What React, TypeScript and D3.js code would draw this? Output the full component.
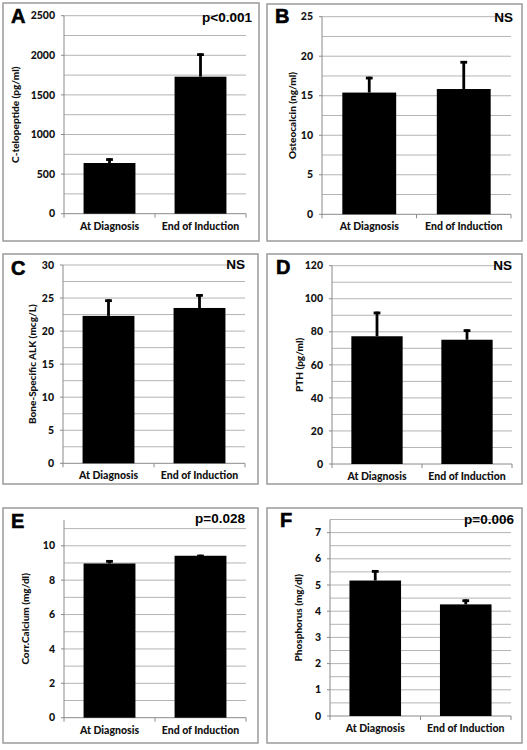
import React from "react";
import * as d3 from "d3";

const categories = ["At Diagnosis", "End of Induction"];

const ctxMean = [640, 1730];
const ctxErr = [60, 295];
const oscMean = [15.4, 15.85];
const oscErr = [2.0, 3.55];
const bsapMean = [22.3, 23.5];
const bsapErr = [2.5, 2.1];
const pthMean = [77.3, 75.2];
const pthErr = [14.9, 6.3];
const caMean = [8.97, 9.42];
const caErr = [0.2, 0.06];
const phosMean = [5.17, 4.26];
const phosErr = [0.4, 0.19];

const ticksA = [0, 500, 1000, 1500, 2000, 2500];
const ticksB = [0, 5, 10, 15, 20, 25];
const ticksC = [0, 5, 10, 15, 20, 25, 30];
const ticksD = [0, 20, 40, 60, 80, 100, 120];
const ticksE = [0, 2, 4, 6, 8, 10];
const ticksF = [0, 1, 2, 3, 4, 5, 6, 7];

const titles = [
  "C-telopeptide (pg/ml)",
  "Osteocalcin (ng/ml)",
  "Bone-Specific ALK (mcg/L)",
  "PTH (pg/ml)",
  "Corr.Calcium (mg/dl)",
  "Phosphorus (mg/dl)",
];
const letters = ["A", "B", "C", "D", "E", "F"];
const stats = ["p<0.001", "NS", "NS", "NS", "p=0.028", "p=0.006"];

type Panel = {
  letter: string;
  stat: string;
  title: string;
  mean: number[];
  err: number[];
  ticks: number[];
  max: number;
  gridStep: number;
  gridMax: number;
  frame: [number, number, number, number];
  plot: [number, number, number, number];
  letterPos: [number, number];
  statPos: [number, number];
  titleX: number;
};

const panels: Panel[] = [
  {
    letter: letters[0], stat: stats[0], title: titles[0], mean: ctxMean, err: ctxErr,
    ticks: ticksA, max: 2500, gridStep: 250, gridMax: 2500,
    frame: [3, 3, 259, 241], plot: [64, 15.7, 246, 213.7],
    letterPos: [11, 23], statPos: [252, 21.5], titleX: 15,
  },
  {
    letter: letters[1], stat: stats[1], title: titles[1], mean: oscMean, err: oscErr,
    ticks: ticksB, max: 25, gridStep: 2.5, gridMax: 25,
    frame: [267, 4, 522, 241], plot: [322, 16.7, 511, 214.3],
    letterPos: [275, 23], statPos: [513, 22], titleX: 292,
  },
  {
    letter: letters[2], stat: stats[2], title: titles[2], mean: bsapMean, err: bsapErr,
    ticks: ticksC, max: 30, gridStep: 2.5, gridMax: 30,
    frame: [3, 254, 258, 484], plot: [63, 265, 245, 463.3],
    letterPos: [11, 275], statPos: [245, 268.5], titleX: 32,
  },
  {
    letter: letters[3], stat: stats[3], title: titles[3], mean: pthMean, err: pthErr,
    ticks: ticksD, max: 120, gridStep: 10, gridMax: 120,
    frame: [267, 254, 522, 484], plot: [332, 265.7, 512, 464],
    letterPos: [276, 274], statPos: [512, 270], titleX: 299,
  },
  {
    letter: letters[4], stat: stats[4], title: titles[4], mean: caMean, err: caErr,
    ticks: ticksE, max: 11.5, gridStep: 1, gridMax: 11,
    frame: [3, 508, 258, 743], plot: [64, 520, 246, 717.7],
    letterPos: [11, 528], statPos: [245, 523], titleX: 25,
  },
  {
    letter: letters[5], stat: stats[5], title: titles[5], mean: phosMean, err: phosErr,
    ticks: ticksF, max: 7.5, gridStep: 0.5, gridMax: 7.5,
    frame: [267, 508, 522, 743], plot: [330, 519.5, 511, 716],
    letterPos: [280, 527], statPos: [514, 524], titleX: 298,
  },
];

const smallFont = "Lato, 'Open Sans', sans-serif";
const bigFont = "'Liberation Sans', Arial, sans-serif";

function PanelChart({ p }: { p: Panel }) {
  const [x0, y0, x1, y1] = p.plot;
  const y = d3.scaleLinear().domain([0, p.max]).range([y1, y0]);
  const x = d3.scaleBand<string>().domain(categories).range([x0, x1]).paddingInner(0.43).paddingOuter(0.215);
  const outer = d3.scaleBand<string>().domain(categories).range([x0, x1]).padding(0);
  const grid = d3.range(p.gridStep, p.gridMax + p.gridStep / 2, p.gridStep);
  const [fx0, fy0, fx1, fy1] = p.frame;
  const boundaries = [x0, ...categories.map((c) => (outer(c) as number) + outer.bandwidth())];
  return (
    <g>
      <rect x={fx0} y={fy0} width={fx1 - fx0} height={fy1 - fy0} fill="#fff" stroke="#9a9a9a" strokeWidth={1.5} />
      {grid.map((g) => (
        <line key={"g" + g} x1={x0} x2={x1} y1={y(g)} y2={y(g)} stroke="#b4b4b4" strokeWidth={1} />
      ))}
      <line x1={x0} x2={x0} y1={y(p.max)} y2={y(0)} stroke="#8a8a8a" strokeWidth={1} />
      <line x1={x0} x2={x1} y1={y(0)} y2={y(0)} stroke="#8a8a8a" strokeWidth={1} />
      {p.ticks.map((t) => (
        <g key={"t" + t}>
          <line x1={x0 - 3} x2={x0} y1={y(t)} y2={y(t)} stroke="#8a8a8a" strokeWidth={1} />
          <text x={x0 - 9} y={y(t)} dy="0.35em" textAnchor="end" fontFamily={smallFont} fontWeight={900} fontSize={10.5} fill="#111">
            {t}
          </text>
        </g>
      ))}
      {boundaries.map((b, i) => (
        <line key={"b" + i} x1={b} x2={b} y1={y(0)} y2={y(0) + 4} stroke="#8a8a8a" strokeWidth={1} />
      ))}
      {categories.map((c, i) => {
        const bx = x(c) as number;
        const bw = x.bandwidth();
        const cx = bx + bw / 2;
        const top = y(p.mean[i]);
        const et = y(p.mean[i] + p.err[i]);
        return (
          <g key={c}>
            <rect x={bx} y={top} width={bw} height={y(0) - top} fill="#000" />
            <line x1={cx} x2={cx} y1={top} y2={et} stroke="#000" strokeWidth={2.8} />
            <line x1={cx - 3.4} x2={cx + 3.4} y1={et + 1.3} y2={et + 1.3} stroke="#000" strokeWidth={2.8} />
            <text x={(outer(c) as number) + outer.bandwidth() / 2} y={y(0) + 16} textAnchor="middle" fontFamily={smallFont} fontWeight={900} fontSize={10.5} fill="#111">
              {c}
            </text>
          </g>
        );
      })}
      <text
        transform={`translate(${p.titleX},${(y0 + y1) / 2}) rotate(-90)`}
        dy="0.35em"
        textAnchor="middle"
        fontFamily={smallFont}
        fontWeight={900}
        fontSize={10}
        fill="#111"
      >
        {p.title}
      </text>
      <text x={p.letterPos[0]} y={p.letterPos[1]} fontFamily={bigFont} fontWeight={700} fontSize={20} fill="#000" stroke="#000" strokeWidth={0.6}>
        {p.letter}
      </text>
      <text x={p.statPos[0]} y={p.statPos[1]} textAnchor="end" fontFamily={bigFont} fontWeight={700} fontSize={13.5} fill="#000">
        {p.stat}
      </text>
    </g>
  );
}

export default function App() {
  return (
    <svg width={527} height={750} style={{ position: "absolute", left: 0, top: 0, background: "#fff" }}>
      <rect x={0} y={0} width={527} height={750} fill="#fff" />
      {panels.map((p) => (
        <PanelChart key={p.letter} p={p} />
      ))}
    </svg>
  );
}
